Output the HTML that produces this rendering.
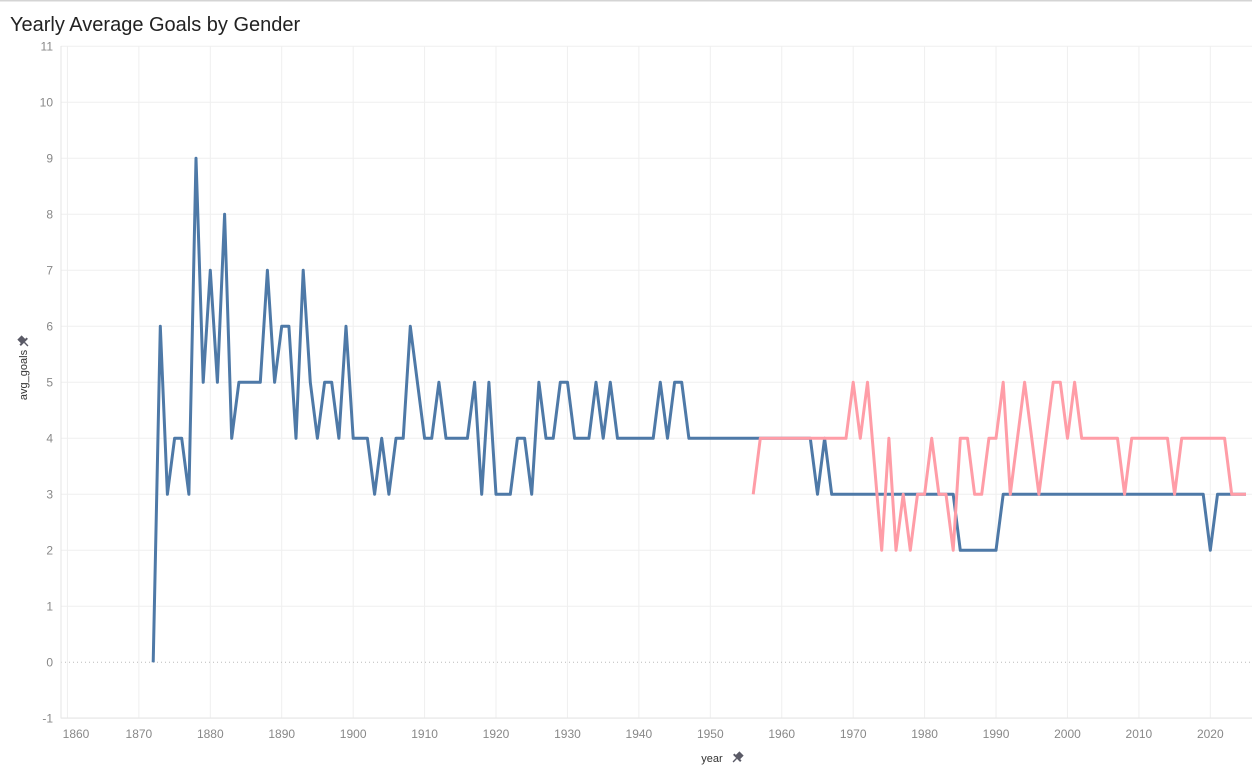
<!DOCTYPE html>
<html><head><meta charset="utf-8"><style>
body{margin:0;background:#fff;font-family:"Liberation Sans",sans-serif;}
svg{display:block}
</style></head><body>
<svg id="chart" width="1252" height="771" xmlns="http://www.w3.org/2000/svg">
<rect x="0" y="0" width="1252" height="1.5" fill="#d4d4d4"/>
<text x="10" y="31" font-size="20" fill="#222">Yearly Average Goals by Gender</text>
<g id="grid"></g>
<g id="axes"></g>
<g id="series"></g>
<text transform="translate(27,375) rotate(-90)" font-size="11" fill="#333" text-anchor="middle">avg_goals</text>
<g transform="translate(23,341) rotate(-45)" fill="#5a5a66">
  <rect x="-3" y="-5" width="6" height="6"/><rect x="-5" y="0" width="10" height="2"/><rect x="-0.7" y="2" width="1.4" height="5"/>
</g>
<text x="712" y="762" font-size="11" fill="#333" text-anchor="middle">year</text>
<g transform="translate(738,757) rotate(45)" fill="#5a5a66">
  <rect x="-3" y="-5" width="6" height="6"/><rect x="-5" y="0" width="10" height="2"/><rect x="-0.7" y="2" width="1.4" height="5"/>
</g>
</svg>
<script>
const maleYears=[1872,1873,1874,1875,1876,1877,1878,1879,1880,1881,1882,1883,1884,1885,1886,1887,1888,1889,1890,1891,1892,1893,1894,1895,1896,1897,1898,1899,1900,1901,1902,1903,1904,1905,1906,1907,1908,1909,1910,1911,1912,1913,1914,1915,1916,1917,1918,1919,1920,1921,1922,1923,1924,1925,1926,1927,1928,1929,1930,1931,1932,1933,1934,1935,1936,1937,1938,1939,1940,1941,1942,1943,1944,1945,1946,1947,1964,1965,1966,1967,1984,1985,1990,1991,2019,2020,2021,2025];
const maleGoals=[0,6,3,4,4,3,9,5,7,5,8,4,5,5,5,5,7,5,6,6,4,7,5,4,5,5,4,6,4,4,4,3,4,3,4,4,6,5,4,4,5,4,4,4,4,5,3,5,3,3,3,4,4,3,5,4,4,5,5,4,4,4,5,4,5,4,4,4,4,4,4,5,4,5,5,4,4,3,4,3,3,2,2,3,3,2,3,3];
const femaleYears=[1956,1957,1969,1970,1971,1972,1974,1975,1976,1977,1978,1979,1980,1981,1982,1983,1984,1985,1986,1987,1988,1989,1990,1991,1992,1994,1996,1998,1999,2000,2001,2002,2007,2008,2009,2014,2015,2016,2022,2023,2025];
const femaleGoals=[3,4,4,5,4,5,2,4,2,3,2,3,3,4,3,3,2,4,4,3,3,4,4,5,3,5,3,5,5,4,5,4,4,3,4,4,3,4,4,3,3];
const xTicks=[1860,1870,1880,1890,1900,1910,1920,1930,1940,1950,1960,1970,1980,1990,2000,2010,2020];
const yTicks=[-1,0,1,2,3,4,5,6,7,8,9,10,11];

const NS="http://www.w3.org/2000/svg";
const L=61,R=1252,T=46,B=718;
const x=y=>210.3+(y-1880)*7.143;
const yv=v=>662.3-56*v;
function mk(tag,attrs,parent){const e=document.createElementNS(NS,tag);for(const k in attrs)e.setAttribute(k,attrs[k]);parent.appendChild(e);return e;}
const grid=document.getElementById('grid'),axes=document.getElementById('axes'),series=document.getElementById('series');
xTicks.forEach(t=>{
  const g=mk('line',{x1:x(t),x2:x(t),y1:T,y2:B,stroke:'#efefef','stroke-width':1},grid);
  
  
  const lb=mk('text',{x:t===1860?76:x(t),y:738,'font-size':12,fill:'#888','text-anchor':'middle'},axes);
  lb.textContent=t;
  
  
});
yTicks.forEach(t=>{
  if(t!==0){const g=mk('line',{x1:L,x2:R,y1:yv(t),y2:yv(t),stroke:'#efefef','stroke-width':1},grid);
  
  }
  const lb=mk('text',{x:53,y:yv(t)+4,'font-size':12,fill:'#888','text-anchor':'end'},axes);
  lb.textContent=t;
  
  
});
const zl=mk('line',{x1:L,x2:R,y1:yv(0),y2:yv(0),stroke:'#bbb','stroke-width':1,'stroke-dasharray':'1 3'},axes);


const ax=mk('path',{d:`M${L},${T} V${B} H${R}`,stroke:'#e6e6e6',fill:'none'},axes);


function line(xs,vs,color,name){
  const d=xs.map((yr,i)=>(i?'L':'M')+x(yr).toFixed(1)+','+yv(vs[i]).toFixed(1)).join(' ');
  const p=mk('path',{d:d,stroke:color,'stroke-width':3,fill:'none','stroke-linejoin':'round'},series);
  
  
}
line(maleYears,maleGoals,'#4e79a7','male-series-line');
line(femaleYears,femaleGoals,'#ff9da7','female-series-line');
</script>
</body></html>
